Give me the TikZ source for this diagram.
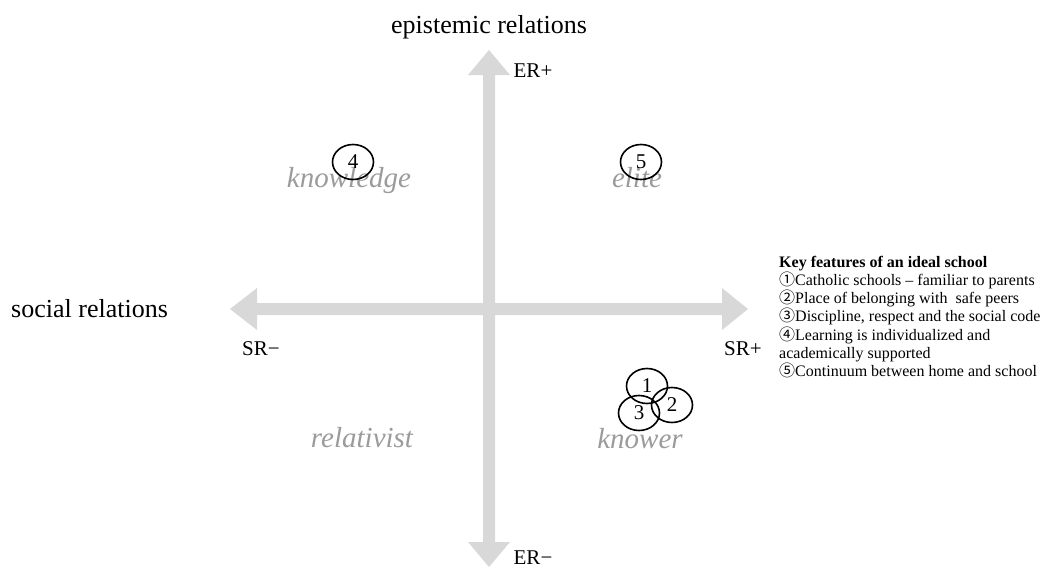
\documentclass[tikz,border=0pt]{standalone}
\usepackage{fontspec}
\setmainfont{Liberation Serif}
\newfontfamily\cjkfont{Noto Sans CJK JP}
\usetikzlibrary{shapes.geometric}
\definecolor{axisgray}{RGB}{216,216,216}
\definecolor{quadgray}{RGB}{155,155,155}
\newcommand{\circnum}[1]{{\cjkfont #1}}
\begin{document}
\begin{tikzpicture}[x=1pt,y=-1pt,
  axistitle/.style={font=\fontsize{26}{30}\selectfont, inner sep=0, anchor=base},
  axislabel/.style={font=\fontsize{21}{25}\selectfont, inner sep=0, anchor=base},
  quadrant/.style={font=\fontsize{29}{34}\selectfont\itshape, text=quadgray, inner sep=0, anchor=base},
  marker/.style={ellipse, draw=black, line width=1.6pt, minimum width=41pt, minimum height=35pt, inner sep=0, font=\fontsize{21}{25}\selectfont},
  keyline/.style={font=\fontsize{16}{18}\selectfont, inner sep=0, anchor=base west},
]
\useasboundingbox (0,0) rectangle (1045,568);

% double-headed axes
\fill[axisgray] (483,75) -- (468,75) -- (489,50) -- (510,75) -- (495,75) -- (495,542)
  -- (510,542) -- (489,567) -- (468,542) -- (483,542) -- cycle;
\fill[axisgray] (257,303) -- (257,288) -- (230,309) -- (257,330) -- (257,315) -- (722,315)
  -- (722,330) -- (748,309) -- (722,288) -- (722,303) -- cycle;

% axis titles and pole labels
\node[axistitle] (ertitle) at (489,33) {epistemic relations};
\node[axistitle, anchor=base west] (srtitle) at (11,317) {social relations};
\node[axislabel] (erplus) at (533,77) {ER+};
\node[axislabel] (erminus) at (533,564) {ER\textminus};
\node[axislabel] (srminus) at (261,355) {SR\textminus};
\node[axislabel] (srplus) at (743,355) {SR+};

% quadrant names
\node[quadrant] (knowledge) at (349,187) {knowledge};
\node[quadrant] (elite) at (637,187) {elite};
\node[quadrant] (relativist) at (362,447) {relativist};
\node[quadrant] (knower) at (640,448) {knower};

% numbered features placed in the plane
\node[marker] (m4) at (353,162) {4};
\node[marker] (m5) at (641,162) {5};
\node[marker] (m1) at (647,386) {1};
\node[marker] (m2) at (672,405) {2};
\node[marker] (m3) at (639,413) {3};

% key
\node[keyline, font=\fontsize{16}{18}\selectfont\bfseries] (k0) at (779,267) {Key features of an ideal school};
\node[keyline] (k1) at (779,285.3) {\circnum{①}Catholic schools – familiar to parents};
\node[keyline] (k2) at (779,303.6) {\circnum{②}Place of belonging with\ \ safe peers};
\node[keyline] (k3) at (779,321.9) {\circnum{③}Discipline, respect and the social code};
\node[keyline] (k4) at (779,340.2) {\circnum{④}Learning is individualized and};
\node[keyline] (k4b) at (779,358.5) {academically supported};
\node[keyline] (k5) at (779,376.8) {\circnum{⑤}Continuum between home and school};
\end{tikzpicture}
\end{document}
